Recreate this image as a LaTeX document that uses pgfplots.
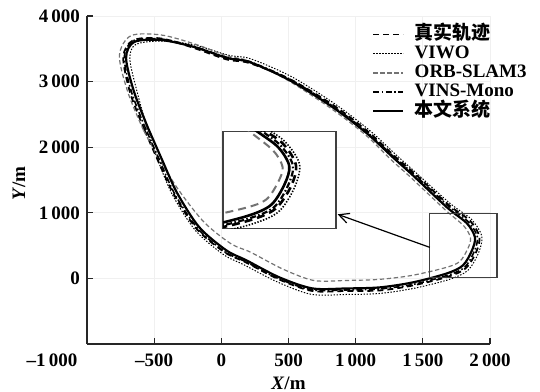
\documentclass[border=0pt]{standalone}
\usepackage{fontspec}
\setmainfont{Liberation Serif}
\newfontfamily\cjk{Noto Sans CJK SC}
\usepackage{pgfplots}
\usepackage{pgfplotstable}
\pgfplotsset{compat=1.18}
\usetikzlibrary{arrows.meta}
\newcommand\tickfont{\bfseries\fontsize{9.5}{11}\selectfont}

\pgfplotstableread{
x y
-572 2264
-678 2824
-730 3373
-656 3631
-447 3657
-203 3512
42 3337
207 3284
511 3036
837 2636
1092 2238
1286 1871
1438 1601
1694 1118
1850 882
1921 638
1897 401
1819 154
1687 26
1429 -106
1181 -183
933 -191
676 -191
427 -13
180 248
26 397
-181 749
-351 1273
-468 1779
-572 2264
}\gt
\pgfplotstableread{
x y
-552 2283
-628 2852
-681 3341
-639 3563
-449 3619
-197 3557
51 3403
218 3348
521 3077
845 2661
1101 2261
1296 1893
1445 1618
1704 1141
1861 902
1939 645
1914 386
1834 120
1695 -17
1434 -151
1183 -229
933 -245
672 -244
418 -55
170 206
15 365
-192 729
-361 1263
-468 1779
-552 2283
}\viwo
\pgfplotstableread{
x y
-579 2257
-692 2816
-759 3391
-673 3700
-445 3710
-195 3571
49 3388
211 3312
503 3010
820 2586
1072 2190
1261 1814
1410 1540
1664 1050
1806 798
1855 614
1835 455
1774 256
1665 162
1415 44
1174 -15
933 -31
689 -32
459 141
218 399
72 528
-125 850
-308 1319
-454 1791
-579 2257
}\orb
\pgfplotstableread{
x y
-562 2274
-667 2830
-723 3368
-654 3625
-447 3649
-200 3534
46 3366
210 3305
511 3036
832 2624
1087 2226
1281 1859
1433 1590
1689 1107
1839 861
1906 633
1883 413
1812 171
1684 47
1428 -91
1180 -160
933 -176
677 -176
429 -6
182 254
28 403
-175 759
-345 1280
-457 1788
-562 2274
}\vins
\pgfplotstableread{
x y
-545 2290
-649 2840
-709 3359
-649 3604
-448 3634
-201 3527
45 3359
209 3298
507 3023
828 2611
1082 2214
1276 1848
1425 1573
1679 1084
1828 840
1888 626
1866 428
1799 199
1679 76
1425 -61
1179 -137
933 -153
679 -153
433 15
187 275
37 428
-164 779
-328 1298
-440 1802
-545 2290
}\ours

\pgfplotsset{
 gtst/.style={black, line width=0.9pt, dash pattern=on 3pt off 2pt},
 viwost/.style={black, line width=0.5pt, dash pattern=on 0.7pt off 0.8pt},
 orbst/.style={black!55, line width=0.6pt, dash pattern=on 2.2pt off 1.3pt},
 vinsst/.style={black, line width=0.8pt, dash pattern=on 3pt off 1.2pt on 0.8pt off 1.2pt},
 oursst/.style={black, line width=1.1pt},
}

\begin{document}
\begin{tikzpicture}
\useasboundingbox (-43.5pt,-23.75pt) rectangle (226.5pt,172pt);
\begin{axis}[at={(0pt,0pt)}, anchor=south west, scale only axis,
 width=201.5pt, height=164pt,
 xmin=-1000, xmax=2000, ymin=-1000, ymax=4000,
 clip=false,
 axis x line*=bottom, axis y line*=left,
 axis line style={black!85, line width=0.6pt},
 tick align=inside, major tick length=3pt,
 tick style={black!85, line width=0.6pt},
 xtick={-500,0,500,1000,1500,2000},
 xticklabels={–500,0,500,1\,000,1\,500,2\,000},
 extra x ticks={-1000}, extra x tick labels={–1\,000},
 extra x tick style={grid=none, major tick length=0pt, tick label style={xshift=-17.5pt}},
 ytick={0,1000,2000,3000,4000},
 yticklabels={0,1\,000,2\,000,3\,000,4\,000},
 tick label style={font=\tickfont},
 xticklabel style={yshift=-1.5pt},
 grid=major, grid style={black!6, line width=0.4pt},
 xlabel={\textit{X}/m}, ylabel={\textit{Y}/m},
 label style={font=\tickfont},
 xlabel style={at={(axis description cs:0.5,-0.12)}, anchor=center},
 ylabel style={at={(axis description cs:-0.169,0.49)}, anchor=center},
 legend style={at={(axis description cs:0.707,0.974)}, anchor=north west,
   draw=none, fill=none, font=\tickfont, row sep=0pt, inner sep=0pt,
   column sep=4.5pt,
   nodes={inner sep=0.6pt, text height=6.6pt, text depth=1.8pt}},
 legend cell align=left,
 legend image code/.code={\draw[#1] (0pt,0pt) -- (15pt,0pt);},
]
\addplot[gtst, smooth] table {\gt};
\addlegendentry{{\cjk\bfseries 真实轨迹}}
\addplot[viwost, smooth] table {\viwo};
\addlegendentry{VIWO}
\addplot[orbst, smooth] table {\orb};
\addlegendentry{ORB-SLAM3}
\addplot[vinsst, smooth] table {\vins};
\addlegendentry{VINS-Mono}
\addplot[oursst, smooth] table {\ours};
\addlegendentry{{\cjk\bfseries 本文系统}}
\draw[black!75, line width=0.6pt] (axis cs:1552,15) rectangle (axis cs:2052,993);
\draw[-{Straight Barb[length=5pt,width=5pt]}, line width=0.6pt] (axis cs:1552,473) -- (axis cs:866,977);
\end{axis}
\begin{axis}[at={(68pt,57.75pt)}, anchor=south west, scale only axis,
 width=56.5pt, height=48.5pt,
 xmin=1560, xmax=2120, ymin=-60, ymax=1000,
 ticks=none, axis line style={black!75, line width=0.6pt},
 axis background/.style={fill=white}]
\addplot[gtst, smooth, line width=1.3pt, dash pattern=on 4pt off 2.5pt] table {\gt};
\addplot[viwost, smooth, line width=0.8pt] table {\viwo};
\addplot[orbst, smooth, line width=1pt, dash pattern=on 4pt off 2.5pt] table {\orb};
\addplot[vinsst, smooth, line width=1.1pt] table {\vins};
\addplot[oursst, smooth, line width=1.3pt] table {\ours};
\end{axis}
\end{tikzpicture}
\end{document}
